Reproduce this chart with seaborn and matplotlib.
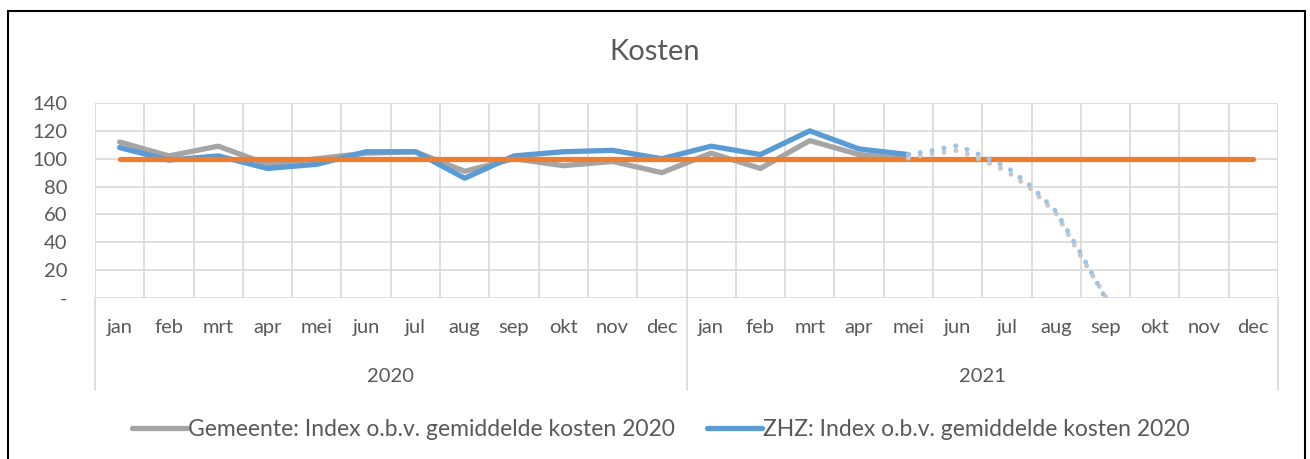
import numpy as np
import matplotlib.pyplot as plt
import seaborn as sns
from matplotlib.lines import Line2D
from matplotlib.patches import Rectangle
import matplotlib.transforms as mtransforms

# --- data ---
months = ['jan', 'feb', 'mrt', 'apr', 'mei', 'jun', 'jul', 'aug', 'sep', 'okt', 'nov', 'dec']
years = ['2020', '2021']

# jan 2020 .. mei 2021
gemeente = [112, 102, 109, 96, 100, 104, 105, 91, 100, 95, 98, 90,
            104, 93, 113, 103, 100]
zhz = [108, 99, 102, 93, 96, 105, 105, 86, 102, 105, 106, 100,
       109, 103, 120, 107, 103]
norm = [100] * 24

# dotted trend lines (mei 2021 .. sep 2021, read at half-month steps)
trend_x = [16, 16.5, 17, 17.5, 18, 18.5, 19, 19.5, 20]
trend_gemeente = [100.5, 103.5, 106, 99, 91, 78, 60.5, 30, 1]
trend_zhz = [103, 106, 109.5, 102, 94, 80, 62, 32, 0]

label_gem = 'Gemeente: Index o.b.v. gemiddelde kosten 2020'
label_zhz = 'ZHZ: Index o.b.v. gemiddelde kosten 2020'

GREY = '#A5A5A5'
BLUE = '#5B9BD5'
ORANGE = '#ED7D31'
GRID = '#D9D9D9'
TXT = '#595959'

sns.set_style("white")
plt.rcParams['font.family'] = ['Lato', 'DejaVu Sans']

W, H = 1310, 459
fig = plt.figure(figsize=(W / 100, H / 100), dpi=100)
ax = fig.add_axes([95 / W, 1 - 298 / H, (1278 - 95) / W, 195 / H])

idx = np.arange(24)
line_kw = dict(lw=3.8, solid_capstyle='round', solid_joinstyle='round')
sns.lineplot(x=idx[:len(gemeente)], y=gemeente, ax=ax, color=GREY, **line_kw)
sns.lineplot(x=idx[:len(zhz)], y=zhz, ax=ax, color=BLUE, **line_kw)
sns.lineplot(x=idx, y=norm, ax=ax, color=ORANGE, **line_kw)

dot_kw = dict(lw=3.6, linestyle=(0, (0.01, 2.4)), dash_capstyle='round')
sns.lineplot(x=trend_x, y=trend_gemeente, ax=ax, color='#C8C8C8', **dot_kw)
sns.lineplot(x=trend_x, y=trend_zhz, ax=ax, color='#9DC3E6', **dot_kw)

ax.set_xlim(-0.5, 23.5)
ax.set_ylim(0, 140)
ax.set_yticks(range(0, 141, 20))
ax.set_yticklabels(['-'] + [str(v) for v in range(20, 141, 20)])
ax.set_xticks(idx)
ax.set_xticklabels(months * 2)
ax.set_xticks(np.arange(-0.5, 24, 1), minor=True)
ax.grid(axis='y', which='major', color=GRID, lw=1.2)
ax.grid(axis='x', which='minor', color=GRID, lw=1.2)
ax.grid(axis='x', which='major', visible=False)
ax.set_axisbelow(True)
for s in ax.spines.values():
    s.set_visible(False)
ax.tick_params(which='both', length=0, labelsize=14.5, labelcolor=TXT)
ax.tick_params(axis='x', pad=15)
ax.tick_params(axis='y', pad=20)
ax.set_xlabel('')
ax.set_ylabel('')

# multi-level category axis: year labels and separators
trans = mtransforms.blended_transform_factory(ax.transData, ax.transAxes)
for xv in [-0.5, 11.5, 23.5]:
    ax.plot([xv, xv], [0, -92 / 195], transform=trans, clip_on=False,
            color=GRID, lw=1.2)
for i, yr in enumerate(years):
    ax.text(5.5 + 12 * i, -79 / 195, yr, transform=trans, ha='center',
            va='center', fontsize=14.5, color=TXT)

fig.text(0.5, 1 - 52 / H, 'Kosten', ha='center', va='center',
         fontsize=21, color=TXT)

handles = [Line2D([], [], color=GREY, lw=3.8, solid_capstyle='round'),
           Line2D([], [], color=BLUE, lw=3.8, solid_capstyle='round')]
fig.legend(handles, [label_gem, label_zhz], loc='center',
           bbox_to_anchor=(661 / W, 1 - 430 / H), ncol=2, frameon=False,
           fontsize=16.5, handlelength=2.4, handletextpad=0.05,
           columnspacing=1.4, labelcolor=TXT)

fig.add_artist(Rectangle((8 / W, -0.05), (1305 - 8) / W, 1.05 - 11 / H,
                         transform=fig.transFigure, fill=False,
                         ec='black', lw=1.5))

fig.savefig('out.png', dpi=100)
